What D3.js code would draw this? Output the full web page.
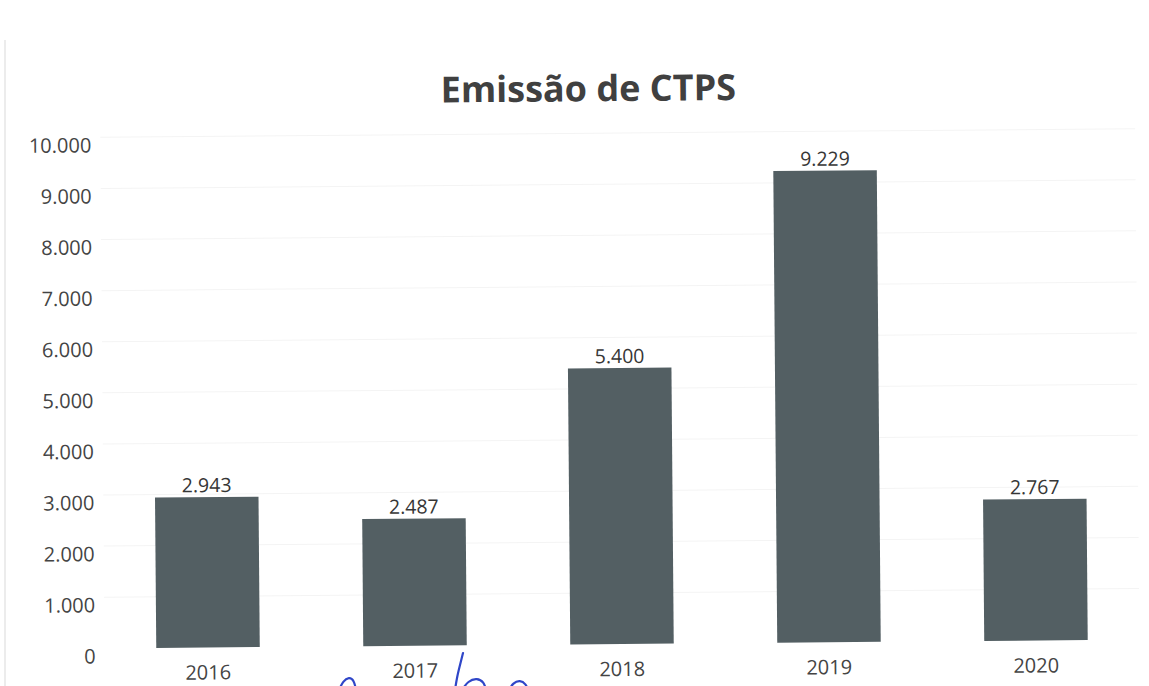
<!DOCTYPE html>
<html>
<head>
<meta charset="utf-8">
<script src="https://cdn.jsdelivr.net/npm/d3@7"></script>
<style>
  html, body { margin: 0; padding: 0; background: #fff; }
  svg { display: block; }
</style>
</head>
<body>
<svg id="chart" width="1149" height="686"></svg>
<script>
// Emissão de CTPS por ano
const years = ["2016", "2017", "2018", "2019", "2020"];
const emissions = [2943, 2487, 5400, 9229, 2767];
const yTicks = [0, 1000, 2000, 3000, 4000, 5000, 6000, 7000, 8000, 9000, 10000];
const chartTitle = "Emissão de CTPS";

// Pen strokes of the handwritten initials below the axis
const inkStrokes = [
  [[339, 690], [343, 681], [349, 677], [354, 680], [356, 690]],
  [[463, 653], [460, 665], [457, 677], [455, 690]],
  [[462, 690], [468, 681], [477, 678], [484, 682], [486, 690]],
  [[509, 690], [513, 683], [520, 680], [526, 684], [528, 690]]
];

const W = 1149, H = 686;
const margin = { left: 104.5, right: 9.5, zeroY: 644, topY: 133 };

const ptBR = d3.formatLocale({ decimal: ",", thousands: ".", grouping: [3], currency: ["R$", ""] });
const fmt = ptBR.format(",d");

const svg = d3.select("#chart");
svg.append("rect").attr("width", W).attr("height", H).attr("fill", "#fff");

// faint page edge
svg.append("line")
  .attr("x1", 5).attr("x2", 5).attr("y1", 40).attr("y2", H)
  .attr("stroke", "#e6e6e6").attr("stroke-width", 1.5);

// the printed sheet sits slightly tilted
const g = svg.append("g").attr("transform", "rotate(-0.48, 620, 644)");

const x = d3.scaleBand()
  .domain(years)
  .range([margin.left, W - margin.right])
  .paddingInner(0.5)
  .paddingOuter(0.25);

const y = d3.scaleLinear()
  .domain([0, 10000])
  .range([margin.zeroY, margin.topY]);

// very light gridlines
g.append("g")
  .selectAll("line")
  .data(yTicks.slice(1))
  .join("line")
  .attr("x1", margin.left).attr("x2", W - margin.right)
  .attr("y1", d => y(d)).attr("y2", d => y(d))
  .attr("stroke", "#f4f4f4").attr("stroke-width", 1);

// title
g.append("text")
  .attr("x", 593).attr("y", 101)
  .attr("text-anchor", "middle")
  .attr("font-family", "'Open Sans', sans-serif")
  .attr("font-weight", 700)
  .attr("font-size", 36)
  .attr("fill", "#404040")
  .text(chartTitle);

// value axis
const yAxis = g.append("g")
  .attr("transform", `translate(${margin.left},0)`)
  .call(d3.axisLeft(y).tickValues(yTicks).tickSize(0).tickPadding(9).tickFormat(fmt));
yAxis.select(".domain").remove();
yAxis.selectAll("text")
  .attr("font-family", "'Open Sans', sans-serif")
  .attr("font-size", 20)
  .attr("fill", "#444")
  .attr("transform", "translate(0,8)");

// bars
g.append("g")
  .selectAll("rect")
  .data(years.map((yr, i) => ({ yr, v: emissions[i] })))
  .join("rect")
  .attr("x", d => x(d.yr))
  .attr("width", x.bandwidth())
  .attr("y", d => y(d.v))
  .attr("height", d => y(0) - y(d.v))
  .attr("fill", "#535f63");

// value labels
g.append("g")
  .selectAll("text")
  .data(years.map((yr, i) => ({ yr, v: emissions[i] })))
  .join("text")
  .attr("x", d => x(d.yr) + x.bandwidth() / 2)
  .attr("y", d => y(d.v) - 5)
  .attr("text-anchor", "middle")
  .attr("font-family", "'Open Sans', sans-serif")
  .attr("font-size", 19.5)
  .attr("fill", "#363636")
  .text(d => fmt(d.v));

// category axis
const xAxis = g.append("g")
  .attr("transform", `translate(0,${margin.zeroY})`)
  .call(d3.axisBottom(x).tickSize(0).tickPadding(0));
xAxis.select(".domain").remove();
xAxis.selectAll("text")
  .attr("font-family", "'Open Sans', sans-serif")
  .attr("font-size", 20)
  .attr("fill", "#444")
  .attr("dy", null)
  .attr("y", 32);

// handwritten initials in blue ink
const pen = d3.line().curve(d3.curveBasis);
svg.append("g")
  .selectAll("path")
  .data(inkStrokes)
  .join("path")
  .attr("d", pen)
  .attr("fill", "none")
  .attr("stroke", "#2f46c8")
  .attr("stroke-width", 2.2)
  .attr("stroke-linecap", "round");
</script>
</body>
</html>
